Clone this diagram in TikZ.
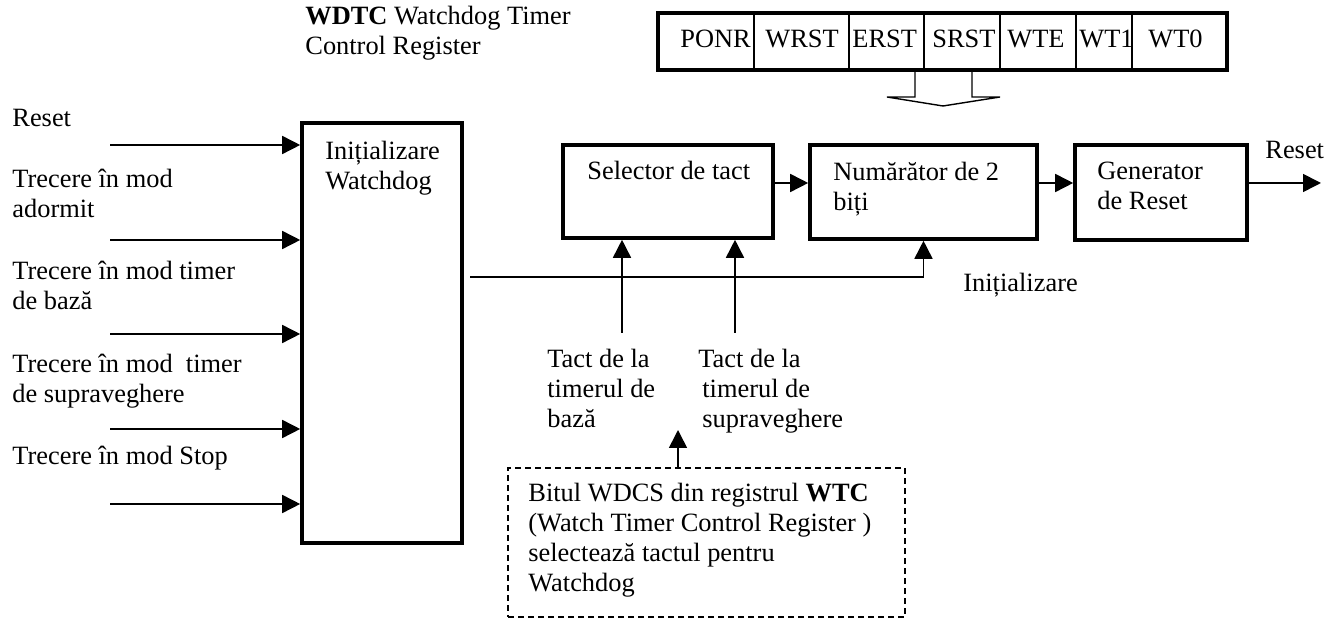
\documentclass[tikz,border=0pt]{standalone}
\usepackage{fontspec}
\setmainfont{Liberation Serif}
\usepackage{tikz}
\usetikzlibrary{arrows.meta,positioning,calc}
% text lines whose baseline is the first line
\newcommand{\txtlines}[1]{\begin{tabular}[t]{@{}l@{}}#1\end{tabular}}

\begin{document}
\begin{tikzpicture}[x=0.5pt, y=-0.5pt,
    every node/.style={font=\fontsize{13.2}{15}\selectfont, inner sep=0pt},
    txt/.style={anchor=base west},
    blk/.style={draw, line width=1.8pt, inner sep=0pt},
    conn/.style={line width=0.8pt, -{Triangle[length=9pt, width=9pt]}}]
  \useasboundingbox (0,0) rectangle (1335,619);
  % WDTC register
  \node[txt] (wdtctxt) at (305,25) {\txtlines{\textbf{WDTC} Watchdog Timer\\Control Register}};
  \node[draw, line width=1.6pt, minimum width=284.5pt, minimum height=28.5pt] (wdtc) at (942.5,41.5) {};
  \foreach \dx in {754,849,924,1000,1076,1132}
    \draw[line width=0.6pt] (\dx,13) -- (\dx,70);
  \foreach \lx/\bit in {680/PONR, 765/WRST, 852/ERST, 932/SRST, 1007/WTE, 1079/WT1, 1148/WT0}
    \node[txt] (\bit) at (\lx,48) {\bit};
  \draw[line width=0.7pt] (915,70) -- (915,97) -- (887,97) -- (943,106)
    -- (1000,97) -- (972,97) -- (972,70);

  % blocks
  \node[blk, minimum width=80pt, minimum height=210pt] (init) at (382,333) {};
  \node[txt] at (325,160) {\txtlines{Inițializare\\Watchdog}};
  \node[blk, minimum width=105pt, minimum height=46.5pt] (sel) at (668,191.5) {};
  \node[txt] at (587,180) {Selector de tact};
  \node[blk, minimum width=113.5pt, minimum height=47pt] (num) at (923.5,192) {};
  \node[txt] at (833,181) {\txtlines{Numărător de 2\\biți}};
  \node[blk, minimum width=86pt, minimum height=47.5pt] (gen) at (1161,192.5) {};
  \node[txt] at (1097,180) {\txtlines{Generator\\de Reset}};

  % inputs
  \node[txt] at (12,127) {Reset};
  \node[txt] at (12,188) {\txtlines{Trecere în mod\\adormit}};
  \node[txt] at (12,280) {\txtlines{Trecere în mod timer\\de bază}};
  \node[txt] at (12,373) {\txtlines{Trecere în mod \ timer\\de supraveghere}};
  \node[txt] at (12,465) {Trecere în mod Stop};
  \foreach \y in {145,240,334,429,504}
    \draw[conn] (110,\y) -- (init.west |- 0,\y);

  % chain
  \draw[conn] (sel.east |- 0,183) -- (num.west |- 0,183);
  \draw[conn] (num.east |- 0,183) -- (gen.west |- 0,183);
  \coordinate (rout) at (1321,183);
  \draw[conn] (gen.east |- rout) -- (rout);
  \node[txt] at (1265,159) {Reset};

  % initialization line
  \coordinate (initout) at (470,277);
  \draw[conn] (initout) -| (num.south);
  \node[txt] at (963,292) {Inițializare};

  % clock inputs
  \coordinate (tb) at (622,333);
  \coordinate (ts) at (735,333);
  \draw[conn] (tb) -- (tb |- sel.south);
  \draw[conn] (ts) -- (ts |- sel.south);
  \node[txt] at (547,368) {\txtlines{Tact de la\\timerul de\\bază}};
  \node[txt] at (698,368) {\txtlines{Tact de la\\\hspace{2pt}timerul de\\\hspace{2pt}supraveghere}};

  % WDCS note
  \node[draw, dash pattern=on 3pt off 2pt, line width=0.7pt,
        minimum width=198.5pt, minimum height=74.5pt] (wdcs) at (706.5,542.5) {};
  \node[txt] at (528,502) {\txtlines{Bitul WDCS din registrul \textbf{WTC}\\(Watch Timer Control Register )\\selectează tactul pentru\\Watchdog}};
  \coordinate (sel2) at (678,430);
  \draw[conn] (wdcs.north -| sel2) -- (sel2);
\end{tikzpicture}
\end{document}
